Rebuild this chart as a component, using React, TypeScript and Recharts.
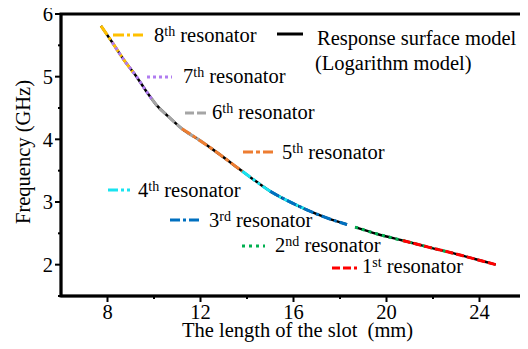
import { LineChart, Line, XAxis, YAxis } from 'recharts';

const FONT = "'Liberation Serif', 'DejaVu Serif', serif";

// response surface (logarithm) model: slot length (mm) -> frequency (GHz)
const modelLength = [7.72, 8.2, 8.7, 9.25, 9.7, 10.1, 10.6, 11.2, 11.9, 12.6, 13.4, 14.2, 15.0, 15.8, 16.6, 17.4, 18.3, 18.45, 18.65, 19.6, 20.7, 21.8, 22.9, 23.8, 24.7];
const modelFreq = [5.81, 5.55, 5.27, 5.0, 4.75, 4.55, 4.37, 4.17, 4.0, 3.82, 3.6, 3.38, 3.17, 3.01, 2.87, 2.75, 2.64, null, 2.6, 2.49, 2.385, 2.28, 2.18, 2.09, 2.0];

// simulated points for each resonator, [length, frequency]
const res8 = [[7.72, 5.81], [8.2, 5.55], [8.7, 5.27], [9.1, 5.07]];
const res7 = [[8.2, 5.55], [8.7, 5.27], [9.25, 5.0], [9.7, 4.75], [9.95, 4.62]];
const res6 = [[9.9, 4.65], [10.1, 4.55], [10.6, 4.37], [11.2, 4.17], [11.9, 4.0], [12.26, 3.91]];
const res5 = [[11.2, 4.17], [11.9, 4.0], [12.6, 3.82], [13.4, 3.6], [13.8, 3.49]];
const res4 = [[13.8, 3.49], [14.2, 3.38], [15.0, 3.17], [15.8, 3.01], [16.6, 2.87]];
const res3 = [[15.0, 3.17], [15.8, 3.01], [16.6, 2.87], [17.4, 2.75], [18.3, 2.64]];
const res2 = [[18.65, 2.6], [19.6, 2.49], [20.7, 2.385], [21.8, 2.28], [22.9, 2.18]];
const res1 = [[20.7, 2.385], [21.8, 2.28], [22.9, 2.18], [23.8, 2.09], [24.7, 2.0]];

const xTicks = [8, 10, 12, 14, 16, 18, 20, 22, 24];
const yTicks = [1.5, 2, 2.5, 3, 3.5, 4, 4.5, 5, 5.5, 6];

const toRows = (pts: number[][]) => pts.map(([x, y]) => ({ x, y }));
const modelData = modelLength.map((x, i) => ({ x, y: modelFreq[i] }));

const resonators = [
  { num: '8', sup: 'th', pts: res8, color: '#FFC000', dash: '11 3 3 3', lx: 105, lx2: 135, ly: 27, tx: 146, ty: 34 },
  { num: '7', sup: 'th', pts: res7, color: '#B07CF0', dash: '3 3', lx: 139, lx2: 164, ly: 69, tx: 175, ty: 75 },
  { num: '6', sup: 'th', pts: res6, color: '#A5A5A5', dash: '9 3', lx: 177, lx2: 200, ly: 105, tx: 204, ty: 111 },
  { num: '5', sup: 'th', pts: res5, color: '#ED7D31', dash: '10 3 4 3', lx: 235, lx2: 265, ly: 144, tx: 274, ty: 151 },
  { num: '4', sup: 'th', pts: res4, color: '#19E3F0', dash: '10 3 3 3 3 3', lx: 100, lx2: 124, ly: 182, tx: 130, ty: 189 },
  { num: '3', sup: 'rd', pts: res3, color: '#0070C0', dash: '10 3 3 3', lx: 162, lx2: 192, ly: 212, tx: 201, ty: 219 },
  { num: '2', sup: 'nd', pts: res2, color: '#00B050', dash: '3 4', lx: 234, lx2: 257, ly: 238, tx: 267, ty: 244 },
  { num: '1', sup: 'st', pts: res1, color: '#FF0000', dash: '8 3', lx: 324, lx2: 349, ly: 260, tx: 354, ty: 265 },
];

// chart box and plot margins
const W = 520;
const H = 340;
const M = { top: 6, right: 2, bottom: 0, left: 0 };
const Y_AXIS_W = 53;
const X_AXIS_H = 52;
const plotLeft = M.left + Y_AXIS_W;
const plotTop = M.top;
const plotRight = W - M.right;
const plotBottom = H - M.bottom - X_AXIS_H;

const textStyle = { fontFamily: FONT, fontSize: 20.5, fill: '#000' };

function XTick({ x, y, payload }: any) {
  const major = payload.value % 4 === 0;
  return (
    <g>
      <line x1={x} y1={y} x2={x} y2={y + (major ? 6 : 3)} stroke="#000" strokeWidth={2} />
      {major && (
        <text x={x} y={y + 23} textAnchor="middle" style={textStyle}>
          {payload.value}
        </text>
      )}
    </g>
  );
}

function YTick({ x, y, payload }: any) {
  const major = Number.isInteger(payload.value);
  return (
    <g>
      <line x1={x} y1={y} x2={x - (major ? 6 : 3)} y2={y} stroke="#000" strokeWidth={2} />
      {major && (
        <text x={x - 8} y={y} dy="0.35em" textAnchor="end" style={textStyle}>
          {payload.value}
        </text>
      )}
    </g>
  );
}

export default function App() {
  return (
    <div style={{ position: 'relative', width: W, height: H }}>
      <LineChart width={W} height={H} margin={M}>
        <XAxis
          dataKey="x"
          type="number"
          domain={[6, 26]}
          ticks={xTicks}
          interval={0}
          tickSize={0}
          tickMargin={0}
          tick={<XTick />}
          tickLine={false}
          axisLine={{ stroke: '#000', strokeWidth: 2.5 }}
          height={X_AXIS_H}
          allowDuplicatedCategory={false}
        />
        <YAxis
          type="number"
          domain={[1.5, 6]}
          ticks={yTicks}
          interval={0}
          tickSize={0}
          tickMargin={0}
          tick={<YTick />}
          tickLine={false}
          axisLine={{ stroke: '#000', strokeWidth: 2.5 }}
          width={Y_AXIS_W}
        />
        <Line
          data={modelData}
          dataKey="y"
          type="monotone"
          stroke="#000"
          strokeWidth={2.5}
          dot={false}
          connectNulls={false}
          isAnimationActive={false}
        />
        {resonators.map((r) => (
          <Line
            key={r.num}
            data={toRows(r.pts)}
            dataKey="y"
            type="monotone"
            stroke={r.color}
            strokeWidth={3}
            strokeDasharray={r.dash}
            dot={false}
            isAnimationActive={false}
          />
        ))}
      </LineChart>
      <svg width={W} height={H} style={{ position: 'absolute', left: 0, top: 0, pointerEvents: 'none' }}>
        {/* box around the plot */}
        <rect
          x={plotLeft}
          y={plotTop}
          width={plotRight - plotLeft}
          height={plotBottom - plotTop}
          fill="none"
          stroke="#000"
          strokeWidth={3}
        />
        <g style={textStyle}>
          {resonators.map((r) => (
            <g key={r.num}>
              <line x1={r.lx} x2={r.lx2} y1={r.ly} y2={r.ly} stroke={r.color} strokeWidth={3} strokeDasharray={r.dash} />
              <text x={r.tx} y={r.ty} style={textStyle}>
                {r.num}
                <tspan fontSize={14} dy={-6}>{r.sup}</tspan>
                <tspan dy={6}> resonator</tspan>
              </text>
            </g>
          ))}
          <line x1={269} x2={295} y1={26} y2={26} stroke="#000" strokeWidth={3} />
          <text x={309} y={37} style={textStyle}>Response surface model</text>
          <text x={307} y={62} style={textStyle}>(Logarithm model)</text>
          <text x={174} y={329} style={{ ...textStyle, whiteSpace: 'pre' }}>The length of the slot  (mm)</text>
          <text x={22} y={144} textAnchor="middle" transform="rotate(-90 22 144)" style={textStyle}>Frequency (GHz)</text>
        </g>
      </svg>
    </div>
  );
}
